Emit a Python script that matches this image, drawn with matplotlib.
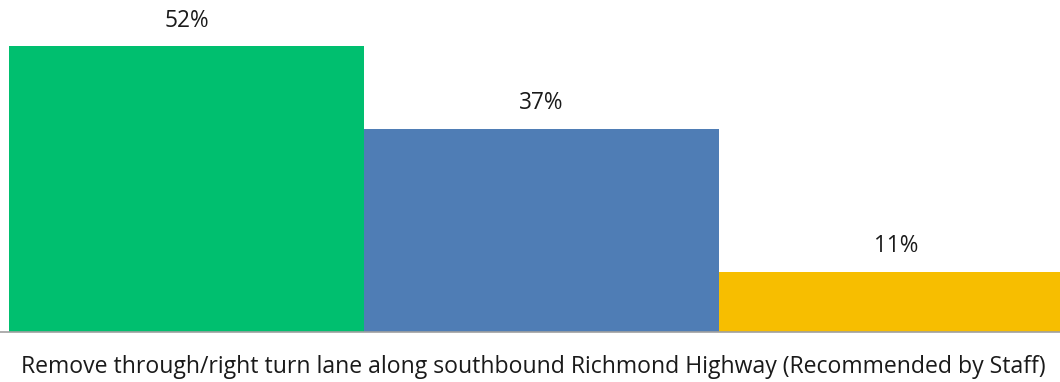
import numpy as np
import matplotlib.pyplot as plt

category = 'Remove through/right turn lane along southbound Richmond Highway (Recommended by Staff)'
series = ['Support', 'Neutral', 'Oppose']
values = [52, 37, 11]
colors = ['#00BF6F', '#4F7DB5', '#F7BE00']

fig = plt.figure(figsize=(10.6, 3.82), dpi=100)
ax = fig.add_axes([0, 50 / 382, 1, 332 / 382])

x = np.arange(len(values))
bars = ax.bar(x, values, width=1.0, color=colors, linewidth=0)
for b, v in zip(bars, values):
    ax.text(b.get_x() + b.get_width() / 2, v + 4.6, f'{v}%',
            ha='center', va='center', fontsize=16.3, color='#1a1a1a',
            family='Open Sans')

ax.set_xlim(-0.5 - 9 / 355, -0.5 + 1051 / 355)
ax.set_ylim(0, 332 / 5.5)
for s in ['top', 'right', 'left']:
    ax.spines[s].set_visible(False)
ax.spines['bottom'].set_color('#A0A0A0')
ax.spines['bottom'].set_linewidth(1.2)
ax.set_xticks([])
ax.set_yticks([])

fig.text(533 / 1060, 1 - 367 / 382, category, ha='center', va='center',
         fontsize=16.55, color='#1a1a1a', family='Open Sans')

fig.savefig('out.png', dpi=100)
